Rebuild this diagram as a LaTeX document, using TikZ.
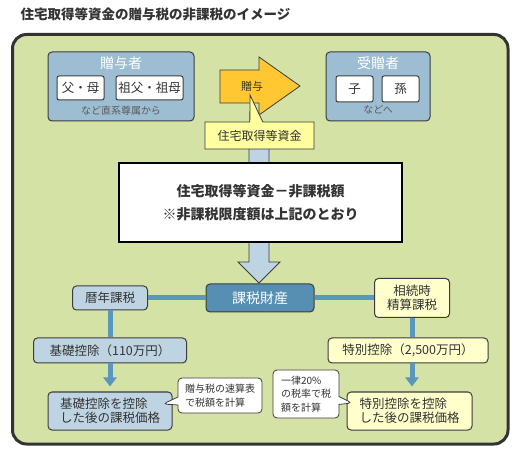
\documentclass[tikz,border=0pt]{standalone}
\usepackage{fontspec}
\setmainfont{Noto Sans CJK JP}
\usepackage{xcolor}
\usepackage{tikz}
\usetikzlibrary{arrows.meta,shapes.callouts}

\definecolor{bgGreen}{RGB}{213,226,165}
\definecolor{donorBlue}{RGB}{157,190,210}
\definecolor{paleBlue}{RGB}{190,212,226}
\definecolor{steelBlue}{RGB}{86,143,178}
\definecolor{lineBlue}{RGB}{90,150,190}
\definecolor{giftOrange}{RGB}{255,200,50}
\definecolor{noteYellow}{RGB}{255,255,160}
\definecolor{paleYellow}{RGB}{255,255,204}
\definecolor{inkGray}{RGB}{51,51,51}
\definecolor{edgeGray}{RGB}{60,60,60}

\begin{document}
\begin{tikzpicture}[x=1pt, y=-1pt,
  every node/.style={text=inkGray},
  box/.style={draw=edgeGray, line width=1pt, rounded corners=4pt, inner sep=0pt, font=\fontsize{12.5}{14}\selectfont},
  tag/.style={draw=edgeGray, line width=1pt, rounded corners=2pt, fill=white, inner sep=0pt, font=\fontsize{12.5}{14}\selectfont},
  note/.style={rectangle callout, draw=edgeGray, line width=0.8pt, fill=white, rounded corners=4pt, inner sep=0pt, align=left, callout pointer width=8pt, font=\fontsize{10}{13.5}\selectfont},
  link/.style={lineBlue, line width=5pt},
  flow/.style={link, -{Triangle[width=13pt,length=9pt]}, shorten >=5pt}]
  \useasboundingbox (0,0) rectangle (525,454);

  \node[anchor=west, font=\bfseries\fontsize{13.5}{16}\selectfont] (title) at (17,14) {住宅取得等資金の贈与税の非課税のイメージ};
  \draw[line width=3pt, draw=black!80, fill=bgGreen, rounded corners=14pt] (12.5,34.5) rectangle (508,444);

  % giver and receiver
  \node[box, fill=donorBlue, minimum width=146pt, minimum height=69pt] (donor) at (121,86.5) {};
  \node[text=white, font=\fontsize{14}{16}\selectfont] (donorhead) at (121,63) {贈与者};
  \node[tag, minimum width=47pt, minimum height=24pt] (parents) at (80.5,88) {父・母};
  \node[tag, minimum width=67pt, minimum height=24pt] (grandparents) at (149.5,88) {祖父・祖母};
  \node[text=black!65, font=\fontsize{10}{12}\selectfont] (donorcap) at (121,111) {など直系尊属から};

  \node[box, fill=donorBlue, minimum width=104pt, minimum height=69pt] (donee) at (378,86.5) {};
  \node[text=white, font=\fontsize{14}{16}\selectfont] (doneehead) at (378,63) {受贈者};
  \node[tag, minimum width=37pt, minimum height=26pt] (child) at (354.5,89) {子};
  \node[tag, minimum width=37pt, minimum height=26pt] (grandchild) at (400.5,89) {孫};
  \node[text=black!65, font=\fontsize{10}{12}\selectfont] (doneecap) at (378,110) {などへ};

  % gift arrow and down arrow
  \draw[edgeGray, line width=0.8pt, fill=giftOrange] (220,70) -- (259,70) -- (259,57) -- (300,86) -- (259,115) -- (259,103) -- (220,103) -- cycle;
  \node[font=\fontsize{11}{13}\selectfont] (gift) at (252,86) {贈与};
  \draw[edgeGray, line width=0.8pt, fill=paleBlue] (249,148) -- (249,262) -- (238,262) -- (259,283) -- (280,262) -- (269,262) -- (269,148) -- cycle;
  \node[rectangle callout, callout absolute pointer={(250,95)}, callout pointer width=13pt, draw=edgeGray, line width=0.8pt, fill=noteYellow, minimum width=109pt, minimum height=27pt, inner sep=0pt, font=\fontsize{12}{14}\selectfont] (funds) at (259.5,135.5) {住宅取得等資金};

  \node[draw=black, line width=2pt, fill=white, minimum width=283pt, minimum height=79pt, align=center, font=\bfseries\fontsize{14}{23}\selectfont] (exempt) at (260.5,202.5) {住宅取得等資金－非課税額\\※非課税限度額は上記のとおり};

  % taxation routes
  \node[box, fill=steelBlue, text=white, minimum width=108pt, minimum height=28pt, font=\fontsize{14}{16}\selectfont] (property) at (260,298) {課税財産};
  \node[box, fill=paleBlue, minimum width=75pt, minimum height=24pt] (annual) at (110,298) {暦年課税};
  \node[box, fill=paleBlue, minimum width=153pt, minimum height=25pt] (basic) at (110,350.5) {基礎控除（110万円）};
  \node[box, fill=paleBlue, minimum width=124pt, minimum height=38pt, align=left] (annualbase) at (110,411) {基礎控除を控除\\した後の課税価格};

  \node[box, fill=paleYellow, minimum width=75pt, minimum height=39pt, align=center] (settle) at (412,298) {相続時\\精算課税};
  \node[box, fill=paleYellow, minimum width=160pt, minimum height=25pt] (special) at (408,350.5) {特別控除（2,500万円）};
  \node[box, fill=paleYellow, minimum width=125pt, minimum height=38pt, align=left] (settlebase) at (409.5,411) {特別控除を控除\\した後の課税価格};

  \draw[link] (annual.east) -- (property.west);
  \draw[link] (property.east) -- (settle.west);
  \draw[link] (annual.south) -- (annual.south |- basic.north);
  \draw[flow] (basic.south -| annual.south) -- (annual.south |- annualbase.north);
  \draw[link] (settle.south) -- (settle.south |- special.north);
  \draw[flow] (special.south -| settle.south) -- (settle.south |- settlebase.north);

  \node[note, callout absolute pointer={(163,404)}, minimum width=84pt, minimum height=35pt] (quicknote) at (220,395.5) {贈与税の速算表\\で税額を計算};
  \node[note, callout absolute pointer={(352,403)}, minimum width=66pt, minimum height=48pt] (flatnote) at (306,394) {一律20\%\\の税率で税\\額を計算};
\end{tikzpicture}
\end{document}
